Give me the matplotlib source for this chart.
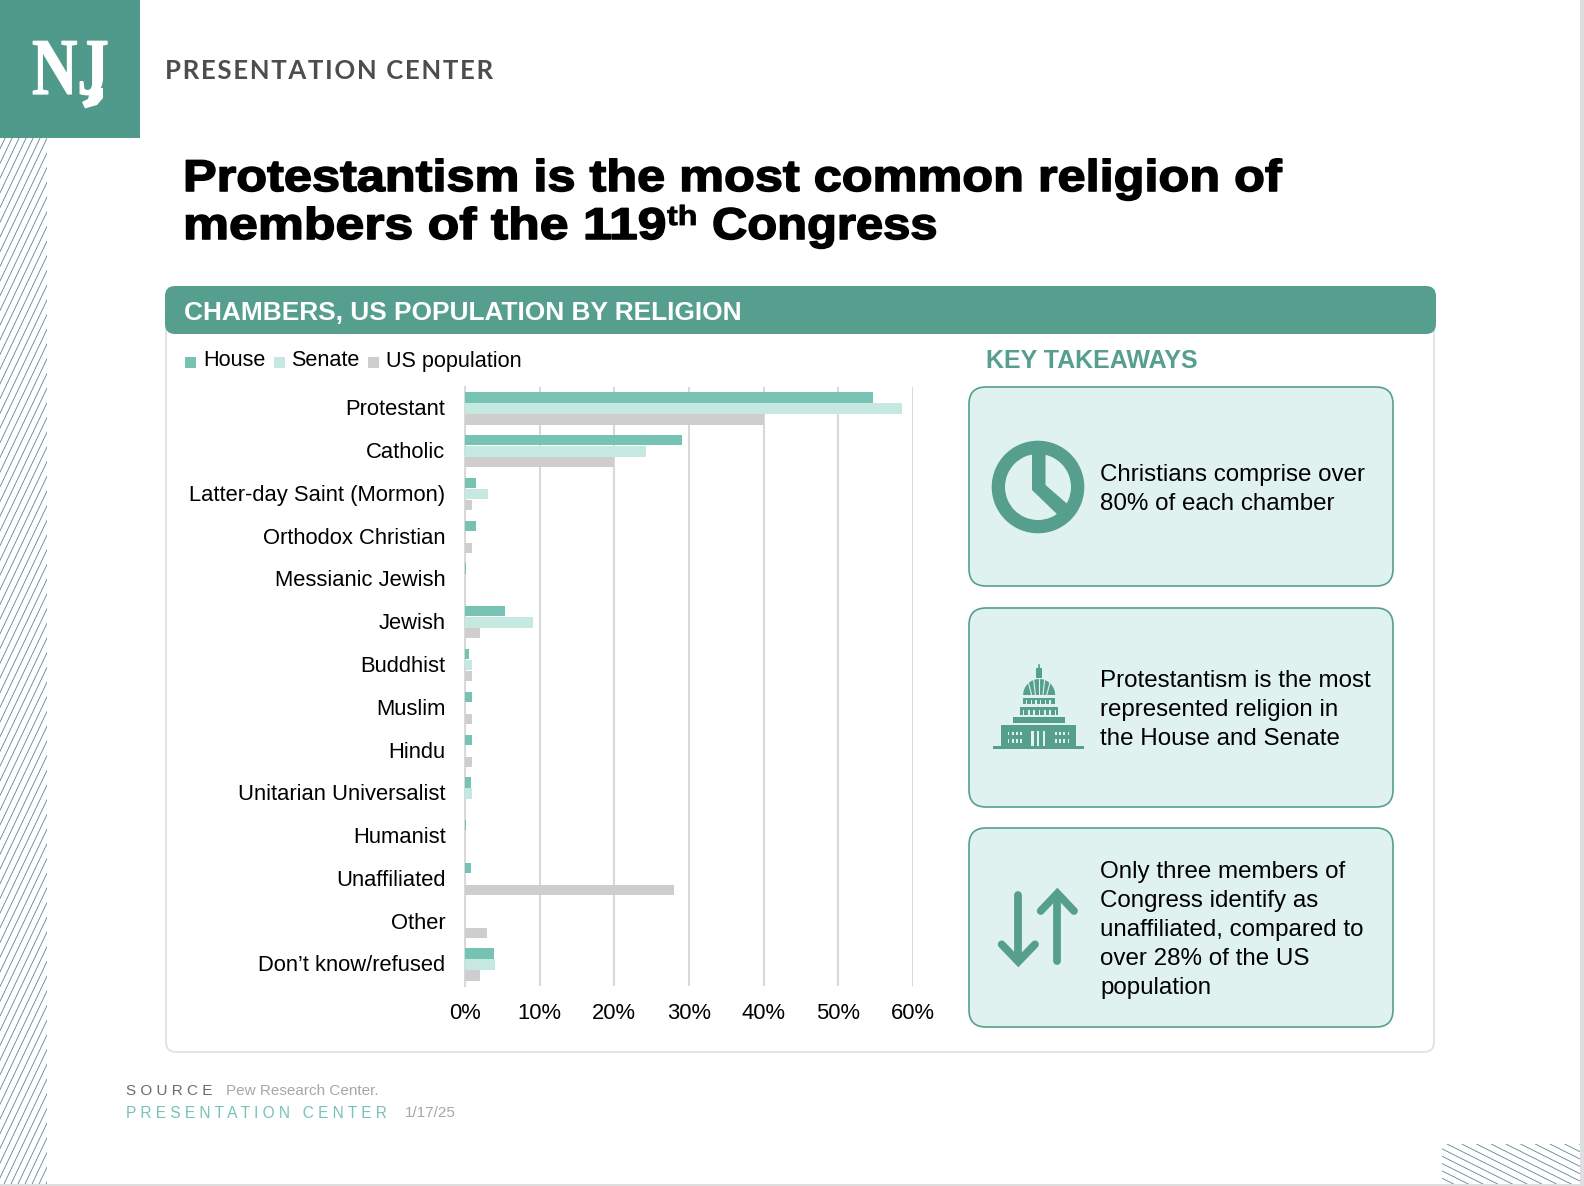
import numpy as np
import matplotlib
matplotlib.use('Agg')
import matplotlib.pyplot as plt
import matplotlib.patheffects as pe
from matplotlib.collections import LineCollection
from matplotlib.patches import FancyBboxPatch, Polygon, Rectangle, Wedge
from matplotlib.transforms import Affine2D, ScaledTranslation

categories = ['Protestant', 'Catholic', 'Latter-day Saint (Mormon)', 'Orthodox Christian',
              'Messianic Jewish', 'Jewish', 'Buddhist', 'Muslim', 'Hindu',
              'Unitarian Universalist', 'Humanist', 'Unaffiliated', 'Other', 'Don’t know/refused']
house = [54.6, 29.0, 1.5, 1.5, 0.2, 5.3, 0.5, 0.9, 0.9, 0.8, 0.2, 0.8, 0, 3.9]
senate = [58.5, 24.2, 3.1, 0, 0, 9.1, 1.0, 0, 0, 1.0, 0, 0, 0, 4.0]
us_population = [40, 20, 1, 1, 0, 2, 1, 1, 1, 0, 0, 28, 3, 2]
x_ticks = [0, 10, 20, 30, 40, 50, 60]

TEAL = '#569f8e'
HOUSE_C = '#76c3b4'
SENATE_C = '#c5e8e1'
US_C = '#cfcdce'
BOX_C = '#e0f2ef'
W, H = 1584, 1186

plt.rcParams['font.family'] = ['Liberation Sans', 'DejaVu Sans']


class Stretch(pe.AbstractPathEffect):
    # widen or narrow a text horizontally around a fixed pixel column, with an optional heavier outline
    def __init__(self, sx, x0, stroke=0.0):
        super().__init__()
        self.sx = sx
        self.x0 = x0
        self.stroke = stroke

    def draw_path(self, renderer, gc, tpath, affine, rgbFace=None):
        warp = Affine2D().translate(-self.x0, 0).scale(self.sx, 1).translate(self.x0, 0)
        gc0 = renderer.new_gc()
        gc0.copy_properties(gc)
        gc0.set_linewidth(self.stroke)
        gc0.set_foreground(rgbFace)
        renderer.draw_path(gc0, tpath, affine + warp, rgbFace)
        gc0.restore()


def track(s):
    return '\u200a'.join(s)


fig = plt.figure(figsize=(W / 100, H / 100), dpi=100, facecolor='white')
page = fig.add_axes([0, 0, 1, 1])
page.set_xlim(0, W)
page.set_ylim(H, 0)
page.axis('off')

# page edges
page.add_patch(Rectangle((1580, 0), 4, H, fc='#dedede', ec='none'))
page.add_patch(Rectangle((0, 1184), W, 2, fc='#dedede', ec='none'))

# hatched strips
left_clip = Rectangle((0, 137), 47, 1047, transform=page.transData)
segs = [[(x, 1184), (x + 1047 / 2.1, 137)] for x in np.arange(-500, 50, 7.0)]
lc = LineCollection(segs, colors='#5e8790', linewidths=0.6)
page.add_collection(lc)
lc.set_clip_path(left_clip)
right_clip = Rectangle((1442, 1144), 138, 40, transform=page.transData)
segs = [[(x, 1144), (x + 200, 1244)] for x in np.arange(1300, 1600, 14.7)]
lc = LineCollection(segs, colors='#5e8790', linewidths=0.6)
page.add_collection(lc)
lc.set_clip_path(right_clip)

# logo block, the J gets a longer tail than the font gives it
page.add_patch(Rectangle((0, 0), 140, 138, fc='#4f9a8a', ec='none'))
nj = page.text(32, 94, 'NJ', color='white', fontsize=58, family='Liberation Serif',
               fontweight='bold', va='baseline', ha='left')
nj.set_path_effects([Stretch(0.78, 32, 0.9)])
page.add_patch(Polygon([(91, 88), (103, 88), (103, 98), (97, 105), (85, 108.5), (82, 102), (88, 99)],
                       fc='white', ec='none'))
page.text(165, 71, track('PRESENTATION CENTER'), color='#4b4d4f', fontsize=18.5,
          family=['Lato', 'DejaVu Sans'], fontweight='bold', va='center', ha='left')

# headline
title_kw = dict(color='black', fontsize=32, fontweight='bold', va='baseline', ha='left')
t = page.text(183, 191, 'Protestantism is the most common religion of', **title_kw)
t.set_path_effects([Stretch(1.135, 183, 1.15)])
t = page.text(183, 239, 'members of the 119', **title_kw)
t.set_path_effects([Stretch(1.165, 183, 1.15)])
t = page.text(667, 225, 'th', color='black', fontsize=20, fontweight='bold', va='baseline', ha='left')
t.set_path_effects([Stretch(1.16, 667, 0.6)])
t = page.text(712, 239, 'Congress', **title_kw)
t.set_path_effects([Stretch(1.1, 712, 1.15)])

# card and its header band
page.add_patch(FancyBboxPatch((166, 300), 1268, 752, boxstyle='round,pad=0,rounding_size=10',
                              fc='white', ec='#e5e5e5', lw=1.5))
page.add_patch(FancyBboxPatch((165, 286), 1271, 48, boxstyle='round,pad=0,rounding_size=10',
                              fc=TEAL, ec='none'))
page.text(184, 313, 'CHAMBERS, US POPULATION BY RELIGION', color='white', fontsize=18.9,
          fontweight='bold', va='center', ha='left')

# legend row
for sx, tx, name, col in [(185, 203, 'House', HOUSE_C), (274, 291, 'Senate', SENATE_C),
                          (368, 386, 'US population', US_C)]:
    page.add_patch(Rectangle((sx, 357), 11, 10.5, fc=col, ec='none'))
    page.text(tx, 361, name, color='black', fontsize=15.6, va='center', ha='left')

page.text(986, 361, 'KEY TAKEAWAYS', color=TEAL, fontsize=18, fontweight='bold', va='center', ha='left')

# takeaway boxes
boxes = [(387, 199, ['Christians comprise over', '80% of each chamber'], 475),
         (608, 199, ['Protestantism is the most', 'represented religion in', 'the House and Senate'], 681),
         (828, 199, ['Only three members of', 'Congress identify as', 'unaffiliated, compared to',
                     'over 28% of the US', 'population'], 872)]
for top, hgt, lines, first_y in boxes:
    page.add_patch(FancyBboxPatch((969, top), 424, hgt, boxstyle='round,pad=0,rounding_size=17',
                                  fc=BOX_C, ec=TEAL, lw=1.2))
    for i, line in enumerate(lines):
        page.text(1100, first_y + i * 28.9, line, color='black', fontsize=17.4, va='center', ha='left')

# clock style icon
page.add_patch(Wedge((1038, 487), 46.3, 0, 360, width=13.3, fc=TEAL, ec='none'))
page.add_patch(Polygon([(1032, 448), (1045.5, 448), (1045.5, 485), (1072, 508), (1062, 519), (1032, 490)],
                       fc=TEAL, ec='none'))


# capitol icon and arrows are laid out on a 3x grid anchored at the second box
def zx(v):
    return 960 + v / 3


def zy(v):
    return 600 + v / 3


def block(x0, x1, y0, y1, col=TEAL):
    page.add_patch(Rectangle((zx(x0), zy(y0)), (x1 - x0) / 3, (y1 - y0) / 3, fc=col, ec='none'))


page.add_patch(Polygon([(zx(234), zy(205)), (zx(235), zy(192)), (zx(239), zy(192)), (zx(240), zy(205))],
                       fc=TEAL, ec='none'))
block(229, 245, 205, 233)
page.add_patch(Wedge((zx(237.5), zy(285)), 16, 180, 360, fc=TEAL, ec='none'))
for off in [-30, -15, 0, 15, 30]:
    page.plot([zx(237.5 + off * 0.75), zx(237.5 + off * 1.1)], [zy(285), zy(285) - 17 + abs(off) * 0.13],
              color=BOX_C, lw=0.8)
block(190, 285, 295, 312)
block(180, 295, 322, 345)
block(158, 315, 352, 369)
block(123, 348, 376, 437)
block(100, 371, 439, 448)
for x in np.arange(198, 280, 14):
    block(x, x + 4, 301, 312, BOX_C)
for x in np.arange(188, 290, 16):
    block(x, x + 5, 330, 345, BOX_C)
for x in [143, 156, 169, 181, 285, 298, 310, 323]:
    block(x, x + 5, 395, 406, BOX_C)
    block(x, x + 5, 418, 430, BOX_C)
for x in [213, 230, 248]:
    block(x, x + 8, 392, 437, BOX_C)

arrow_kw = dict(color=TEAL, lw=5.6, solid_capstyle='round', solid_joinstyle='miter')
page.plot([zx(175), zx(175)], [zy(885), zy(1080)], **arrow_kw)
page.plot([zx(125), zx(175), zx(225)], [zy(1033), zy(1085), zy(1033)], **arrow_kw)
page.plot([zx(292), zx(292)], [zy(1083), zy(885)], **arrow_kw)
page.plot([zx(242), zx(292), zx(342)], [zy(933), zy(880), zy(933)], **arrow_kw)

# footer
page.text(126, 1091, 'S O U R C E', color='#6b6b6b', fontsize=11, va='center', ha='left')
page.text(226, 1091, 'Pew Research Center.', color='#a7a7a7', fontsize=11, va='center', ha='left')
page.text(126, 1113, 'P R E S E N T A T I O N   C E N T E R', color=HOUSE_C, fontsize=11.2, va='center', ha='left')
page.text(405, 1113, '1/17/25', color='#a7a7a7', fontsize=11, va='center', ha='left')

# bar chart
ax = fig.add_axes([465 / W, 1 - 986 / H, (913 - 465) / W, (986 - 387) / H], facecolor='none')
y = np.arange(len(categories))
step = 0.257
ax.barh(y - step, house, height=0.24, color=HOUSE_C, zorder=3)
ax.barh(y, senate, height=0.25, color=SENATE_C, zorder=3)
ax.barh(y + step, us_population, height=0.24, color=US_C, zorder=3)
ax.set_ylim(len(categories) - 0.5, -0.5)
ax.set_xlim(0, 60)
ax.set_yticks(y)
ax.set_yticklabels(categories)
ax.set_xticks(x_ticks)
ax.set_xticklabels([f'{v}%' for v in x_ticks])
ax.tick_params(axis='y', length=0, pad=14, labelsize=15.8)
ax.tick_params(axis='x', length=0, pad=12, labelsize=15.8)
ax.grid(axis='x', color='#d9d9d9', lw=1.5, zorder=0)
ax.set_axisbelow(True)
for side in ['top', 'right', 'bottom']:
    ax.spines[side].set_visible(False)
ax.spines['left'].set_color('#d9d9d9')
ax.spines['left'].set_linewidth(1.5)

# nudge the category labels up a little
nudge = ScaledTranslation(0, 0.8 / 72, fig.dpi_scale_trans)
for lab in ax.get_yticklabels():
    lab.set_transform(lab.get_transform() + nudge)

fig.savefig('out.png', dpi=100)
